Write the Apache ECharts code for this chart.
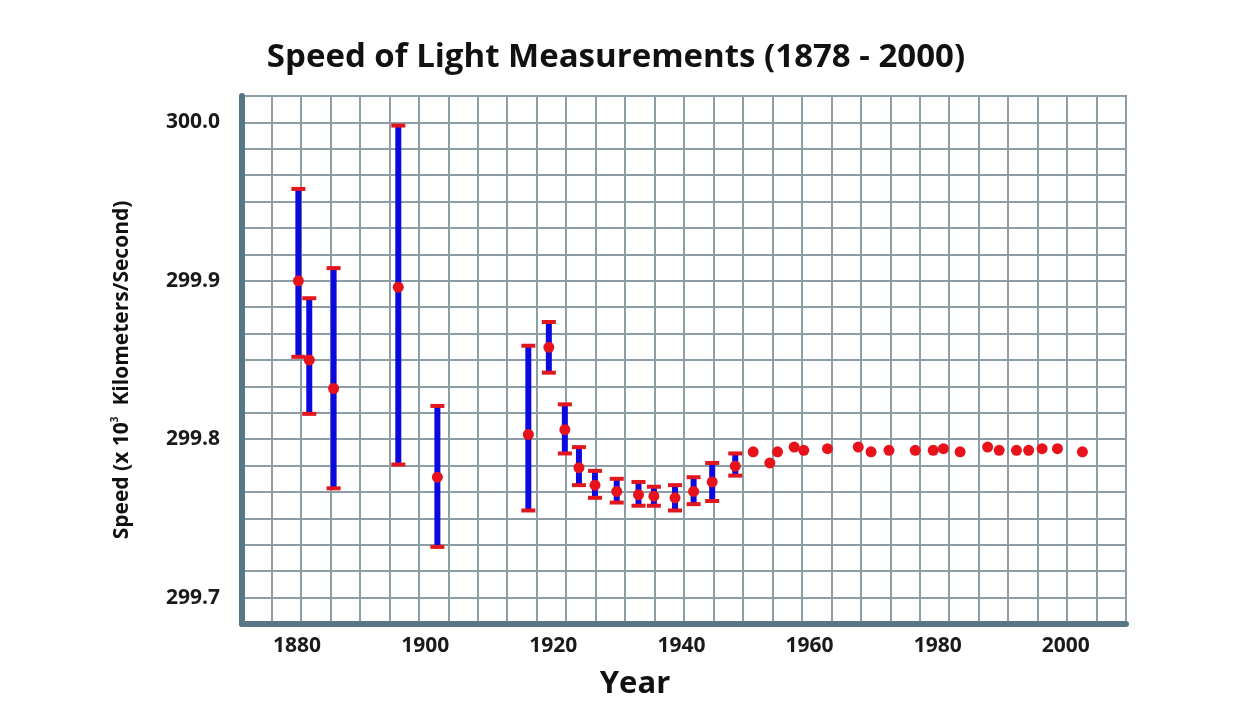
<!DOCTYPE html>
<html><head><meta charset="utf-8">
<script src="https://cdn.jsdelivr.net/npm/echarts@6/dist/echarts.min.js"></script>
<style>html,body{margin:0;padding:0;background:#fff}#c{width:1254px;height:702px}</style>
</head><body><div id="c"></div>
<script>
// Measurements with error bars
const barYears = [1880.2, 1881.9, 1885.7, 1895.8, 1901.9, 1916.1, 1919.3, 1921.8, 1924.0, 1926.5, 1929.9, 1933.3, 1935.7, 1939.0, 1941.9, 1944.8, 1948.4];
const barValues = [299.900, 299.850, 299.832, 299.896, 299.776, 299.803, 299.858, 299.806, 299.782, 299.771, 299.767, 299.765, 299.764, 299.763, 299.767, 299.773, 299.783];
const barLow   = [299.852, 299.816, 299.769, 299.784, 299.732, 299.755, 299.842, 299.791, 299.771, 299.763, 299.760, 299.758, 299.758, 299.755, 299.759, 299.761, 299.777];
const barHigh  = [299.958, 299.889, 299.908, 299.998, 299.821, 299.859, 299.874, 299.822, 299.795, 299.780, 299.775, 299.773, 299.770, 299.771, 299.776, 299.785, 299.791];
// Later measurements (no visible error bars)
const dotYears  = [1951.2, 1953.8, 1955.0, 1957.6, 1959.1, 1962.8, 1967.6, 1969.6, 1972.4, 1976.5, 1979.3, 1980.9, 1983.5, 1987.8, 1989.6, 1992.3, 1994.2, 1996.3, 1998.7, 2002.6];
const dotValues = [299.792, 299.785, 299.792, 299.795, 299.793, 299.794, 299.795, 299.792, 299.793, 299.793, 299.793, 299.794, 299.792, 299.795, 299.793, 299.793, 299.793, 299.794, 299.794, 299.792];
const xTickLabels = [1880, 1900, 1920, 1940, 1960, 1980, 2000];
const yTickLabels = [299.7, 299.8, 299.9, 300.0];

const FONT = '"Open Sans"';
const labelStyle = {fontFamily: FONT, fontWeight: 'bold', fontSize: 21, color: '#1a1a1a'};

const chart = echarts.init(document.getElementById('c'));
chart.setOption({
  animation: false,
  backgroundColor: '#ffffff',
  grid: {left: 242, right: 128, top: 96, bottom: 78, show: true, borderColor: '#7f949c', borderWidth: 2},
  xAxis: [
    {type: 'value', min: 1871.4, max: 2009.4, z: 5,
     axisLine: {show: true, onZero: false, lineStyle: {color: '#587684', width: 6}},
     axisTick: {show: false}, splitLine: {show: false},
     axisLabel: Object.assign({customValues: xTickLabels, margin: 12, formatter: v => String(v)}, labelStyle)},
    {type: 'value', min: 0, max: 30, interval: 1, position: 'top',
     axisLine: {show: false}, axisTick: {show: false}, axisLabel: {show: false},
     splitLine: {show: true, lineStyle: {color: '#8d9ea6', width: 2}}}
  ],
  yAxis: [
    {type: 'value', min: 299.68333333333334, max: 300.01666666666665, z: 5,
     axisLine: {show: true, onZero: false, lineStyle: {color: '#587684', width: 6}},
     axisTick: {show: false}, splitLine: {show: false},
     axisLabel: Object.assign({customValues: yTickLabels, margin: 22, formatter: v => v.toFixed(1)}, labelStyle)},
    {type: 'value', min: 0, max: 20, interval: 1, position: 'right',
     axisLine: {show: false}, axisTick: {show: false}, axisLabel: {show: false},
     splitLine: {show: true, lineStyle: {color: '#8d9ea6', width: 2}}}
  ],
  series: [
    {type: 'custom', xAxisIndex: 0, yAxisIndex: 0, z: 3,
     data: barYears.map((y, i) => [y, barLow[i], barHigh[i]]),
     renderItem: function (params, api) {
       const x = api.value(0);
       const pLo = api.coord([x, api.value(1)]);
       const pHi = api.coord([x, api.value(2)]);
       const cw = 14, ch = 4;
       return {type: 'group', children: [
         {type: 'line', shape: {x1: pLo[0], y1: pLo[1], x2: pHi[0], y2: pHi[1]}, style: {stroke: '#0a0ade', lineWidth: 6}},
         {type: 'rect', shape: {x: pHi[0] - cw / 2, y: pHi[1] - ch / 2, width: cw, height: ch}, style: {fill: '#e2161d'}},
         {type: 'rect', shape: {x: pLo[0] - cw / 2, y: pLo[1] - ch / 2, width: cw, height: ch}, style: {fill: '#e2161d'}}
       ]};
     }},
    {type: 'scatter', xAxisIndex: 0, yAxisIndex: 0, z: 4, symbolSize: 11,
     itemStyle: {color: '#e8121b', opacity: 1},
     data: barYears.map((y, i) => [y, barValues[i]]).concat(dotYears.map((y, i) => [y, dotValues[i]]))}
  ],
  graphic: [
    {type: 'text', x: 616, y: 58, z: 10,
     style: {text: 'Speed of Light Measurements (1878 - 2000)', fontFamily: FONT, fontWeight: 'bold', fontSize: 33, fill: '#111', align: 'center', verticalAlign: 'middle'}},
    {type: 'text', x: 635, y: 684, z: 10,
     style: {text: 'Year', fontFamily: FONT, fontWeight: 'bold', fontSize: 31, fill: '#111', align: 'center', verticalAlign: 'middle'}},
    {type: 'text', x: 122, y: 370, rotation: Math.PI / 2, z: 10,
     style: {text: 'Speed (x 10{sup|3}  Kilometers/Second)', fontFamily: FONT, fontWeight: 'bold', fontSize: 21, lineHeight: 24, fill: '#111', align: 'center', verticalAlign: 'middle',
       rich: {sup: {fontFamily: FONT, fontWeight: 'bold', fontSize: 10, lineHeight: 12, verticalAlign: 'top', fill: '#111'}}}}
  ]
});
</script>
</body></html>
